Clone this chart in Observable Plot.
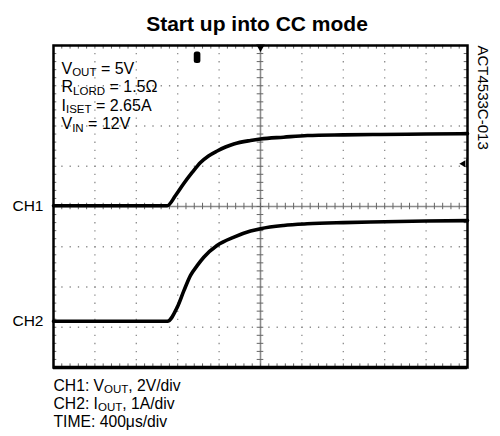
<!DOCTYPE html>
<html><head><meta charset="utf-8">
<script src="https://cdn.jsdelivr.net/npm/d3@7"></script>
<script src="https://cdn.jsdelivr.net/npm/@observablehq/plot@0.6"></script>
<style>
body{margin:0;background:#fff;}
svg{font-family:"Liberation Sans",Arial,Helvetica,sans-serif;}
</style>
</head><body><div id="chart"></div>
<script>
// ---- texts ----
const title = "Start up into CC mode";
const channelLabels = ["CH1", "CH2"];
const channelGround = [0, -2.85];          // reference levels, in divisions
const conditions = ["V_{OUT} = 5V", "R_{LORD} = 1.5Ω", "I_{ISET} = 2.65A", "V_{IN} = 12V"];
const captionLines = ["CH1: V_{OUT}, 2V/div", "CH2: I_{OUT}, 1A/div", "TIME: 400μs/div"];
const figureId = "ACT4533C-013";

// ---- graticule (divisions) ----
const majorX = [0,1,2,3,4,6,7,8,9,10];
const majorY = [-4,-3,-2,-1,1,2,3,4];
const minorX = d3.range(0, 10.0001, 0.2);
const minorY = d3.range(-4, 4.0001, 0.2);

// ---- traces (time in divisions, level in divisions) ----
const ch1Time  = [0, 1, 2, 2.746, 2.947, 3.147, 3.350, 3.551, 3.744, 3.954, 4.155, 4.355, 4.758, 5.0, 5.556, 6.135, 7.0, 7.9, 9.0, 10];
const ch1Level = [0.02, 0.02, 0.02, 0.02, 0.273, 0.571, 0.845, 1.093, 1.255, 1.379, 1.478, 1.553, 1.640, 1.677, 1.722, 1.764, 1.78, 1.79, 1.80, 1.81];
const ch2Time  = [0, 1, 2, 2.75, 2.99, 3.15, 3.31, 3.47, 3.63, 3.95, 4.36, 4.76, 5.0, 5.56, 6.13, 7.0, 8.0, 9.0, 10];
const ch2Level = [-2.85, -2.85, -2.85, -2.85, -2.50, -2.09, -1.71, -1.47, -1.26, -0.97, -0.76, -0.61, -0.55, -0.47, -0.43, -0.40, -0.38, -0.36, -0.35];

// ---- scope markers ----
const triggerTime = [5];
const triggerLevel = [1.06];
const positionMarkerTime = [3.40, 3.56];
const positionMarkerLevel = [3.55, 3.84];

const ch1 = ch1Time.map((t, i) => ({t, v: ch1Level[i]}));
const ch2 = ch2Time.map((t, i) => ({t, v: ch2Level[i]}));

const gray = "#8c8c8c";
const tickGray = "#666";

const chart = Plot.plot({
  width: 500, height: 436,
  marginLeft: 53, marginRight: 33, marginTop: 45, marginBottom: 69,
  x: {domain: [0, 10], axis: null},
  y: {domain: [-4, 4], axis: null},
  style: {fontFamily: '"Liberation Sans", Arial, sans-serif', background: "white"},
  marks: [
    // dotted grid
    Plot.ruleX(majorX, {stroke: gray, strokeWidth: 1.3, strokeDasharray: "1.3,6.75"}),
    Plot.ruleY(majorY, {stroke: gray, strokeWidth: 1.3, strokeDasharray: "1.3,6.98"}),
    // centre cross
    Plot.ruleX([5], {stroke: gray, strokeWidth: 1.6}),
    Plot.ruleY([0], {stroke: gray, strokeWidth: 1.4}),
    Plot.ruleY(minorY, {x1: 4.92, x2: 5.08, stroke: tickGray, strokeWidth: 1}),
    Plot.ruleX(minorX, {y1: -0.08, y2: 0.08, stroke: tickGray, strokeWidth: 1}),
    // edge ticks
    Plot.ruleX(minorX, {y1: -4, y2: -3.91, stroke: tickGray, strokeWidth: 1}),
    Plot.ruleX(minorX, {y1: 4, y2: 3.91, stroke: tickGray, strokeWidth: 1}),
    Plot.ruleY(minorY, {x1: 0, x2: 0.08, stroke: tickGray, strokeWidth: 1}),
    Plot.ruleY(minorY, {x1: 10, x2: 9.92, stroke: tickGray, strokeWidth: 1}),
    // traces
    Plot.line(ch1, {x: "t", y: "v", stroke: "black", strokeWidth: 3.6, curve: "monotone-x"}),
    Plot.line(ch2, {x: "t", y: "v", stroke: "black", strokeWidth: 3.6, curve: "monotone-x"}),
    // frame
    Plot.frame({stroke: "black", strokeWidth: 2.5}),
    Plot.ruleY([-4], {stroke: "black", strokeWidth: 3.5}),
    // markers
    Plot.dot(triggerTime, {x: d => d, y: () => 4, symbol: "triangle", r: 3.2, fill: "black", stroke: "none", rotate: 180, dy: 1.5}),
    Plot.rect([0], {x1: positionMarkerTime[0], x2: positionMarkerTime[1], y1: positionMarkerLevel[0], y2: positionMarkerLevel[1], fill: "black", rx: 2.5}),
    Plot.dot(triggerLevel, {x: () => 9.9, y: d => d, symbol: "triangle", r: 2.6, fill: "black", stroke: "none", rotate: -90}),
    Plot.ruleX(triggerLevel, {x: () => 9.98, y1: d => d - 0.1, y2: d => d + 0.1, stroke: "black", strokeWidth: 1}),
    // channel labels
    Plot.text(channelLabels, {x: () => 0, y: (d, i) => channelGround[i], text: d => d, textAnchor: "end", dx: -10, fontSize: 15.5, fill: "black"}),
    // conditions
    Plot.text(conditions, {frameAnchor: "top-left", text: d => d, fontSize: 16, fill: "black", textAnchor: "start", className: "cond"}),
    // caption
    Plot.text(captionLines, {frameAnchor: "bottom-left", text: d => d, textAnchor: "start", fontSize: 15.7, fill: "black", className: "cap"}),
    // title
    Plot.text([title], {frameAnchor: "top", text: d => d, dx: -3.5, dy: -29, fontSize: 21, fontWeight: "bold", fill: "black"}),
    // figure id
    Plot.text([figureId], {frameAnchor: "top-right", text: d => d, dx: 21, dy: 0, rotate: 90, textAnchor: "start", fontSize: 15, fill: "black"})
  ]
});

document.getElementById("chart").append(chart);

const svg = d3.select(chart);
// stack the condition and caption lines
svg.selectAll("g.cond text").each(function(d, i) {
  this.setAttribute("transform", `translate(61,${62 + i * 18.5})`);
});
svg.selectAll("g.cap text").each(function(d, i) {
  this.setAttribute("transform", `translate(53,${390 + i * 18})`);
});

// subscripts: "X_{SUB}" -> tspans
svg.selectAll("text").each(function() {
  const s = this.textContent;
  if (!s.includes("_{")) return;
  const parts = s.split(/_\{([^}]*)\}/);
  this.textContent = "";
  const node = d3.select(this);
  parts.forEach((p, k) => {
    if (!p) return;
    if (k % 2 === 1) {
      node.append("tspan").attr("font-size", "11.5px").attr("dy", 2.5).text(p);
    } else {
      const ts = node.append("tspan").text(p);
      if (k > 0) ts.attr("dy", -2.5);
    }
  });
});
</script>
</body></html>
